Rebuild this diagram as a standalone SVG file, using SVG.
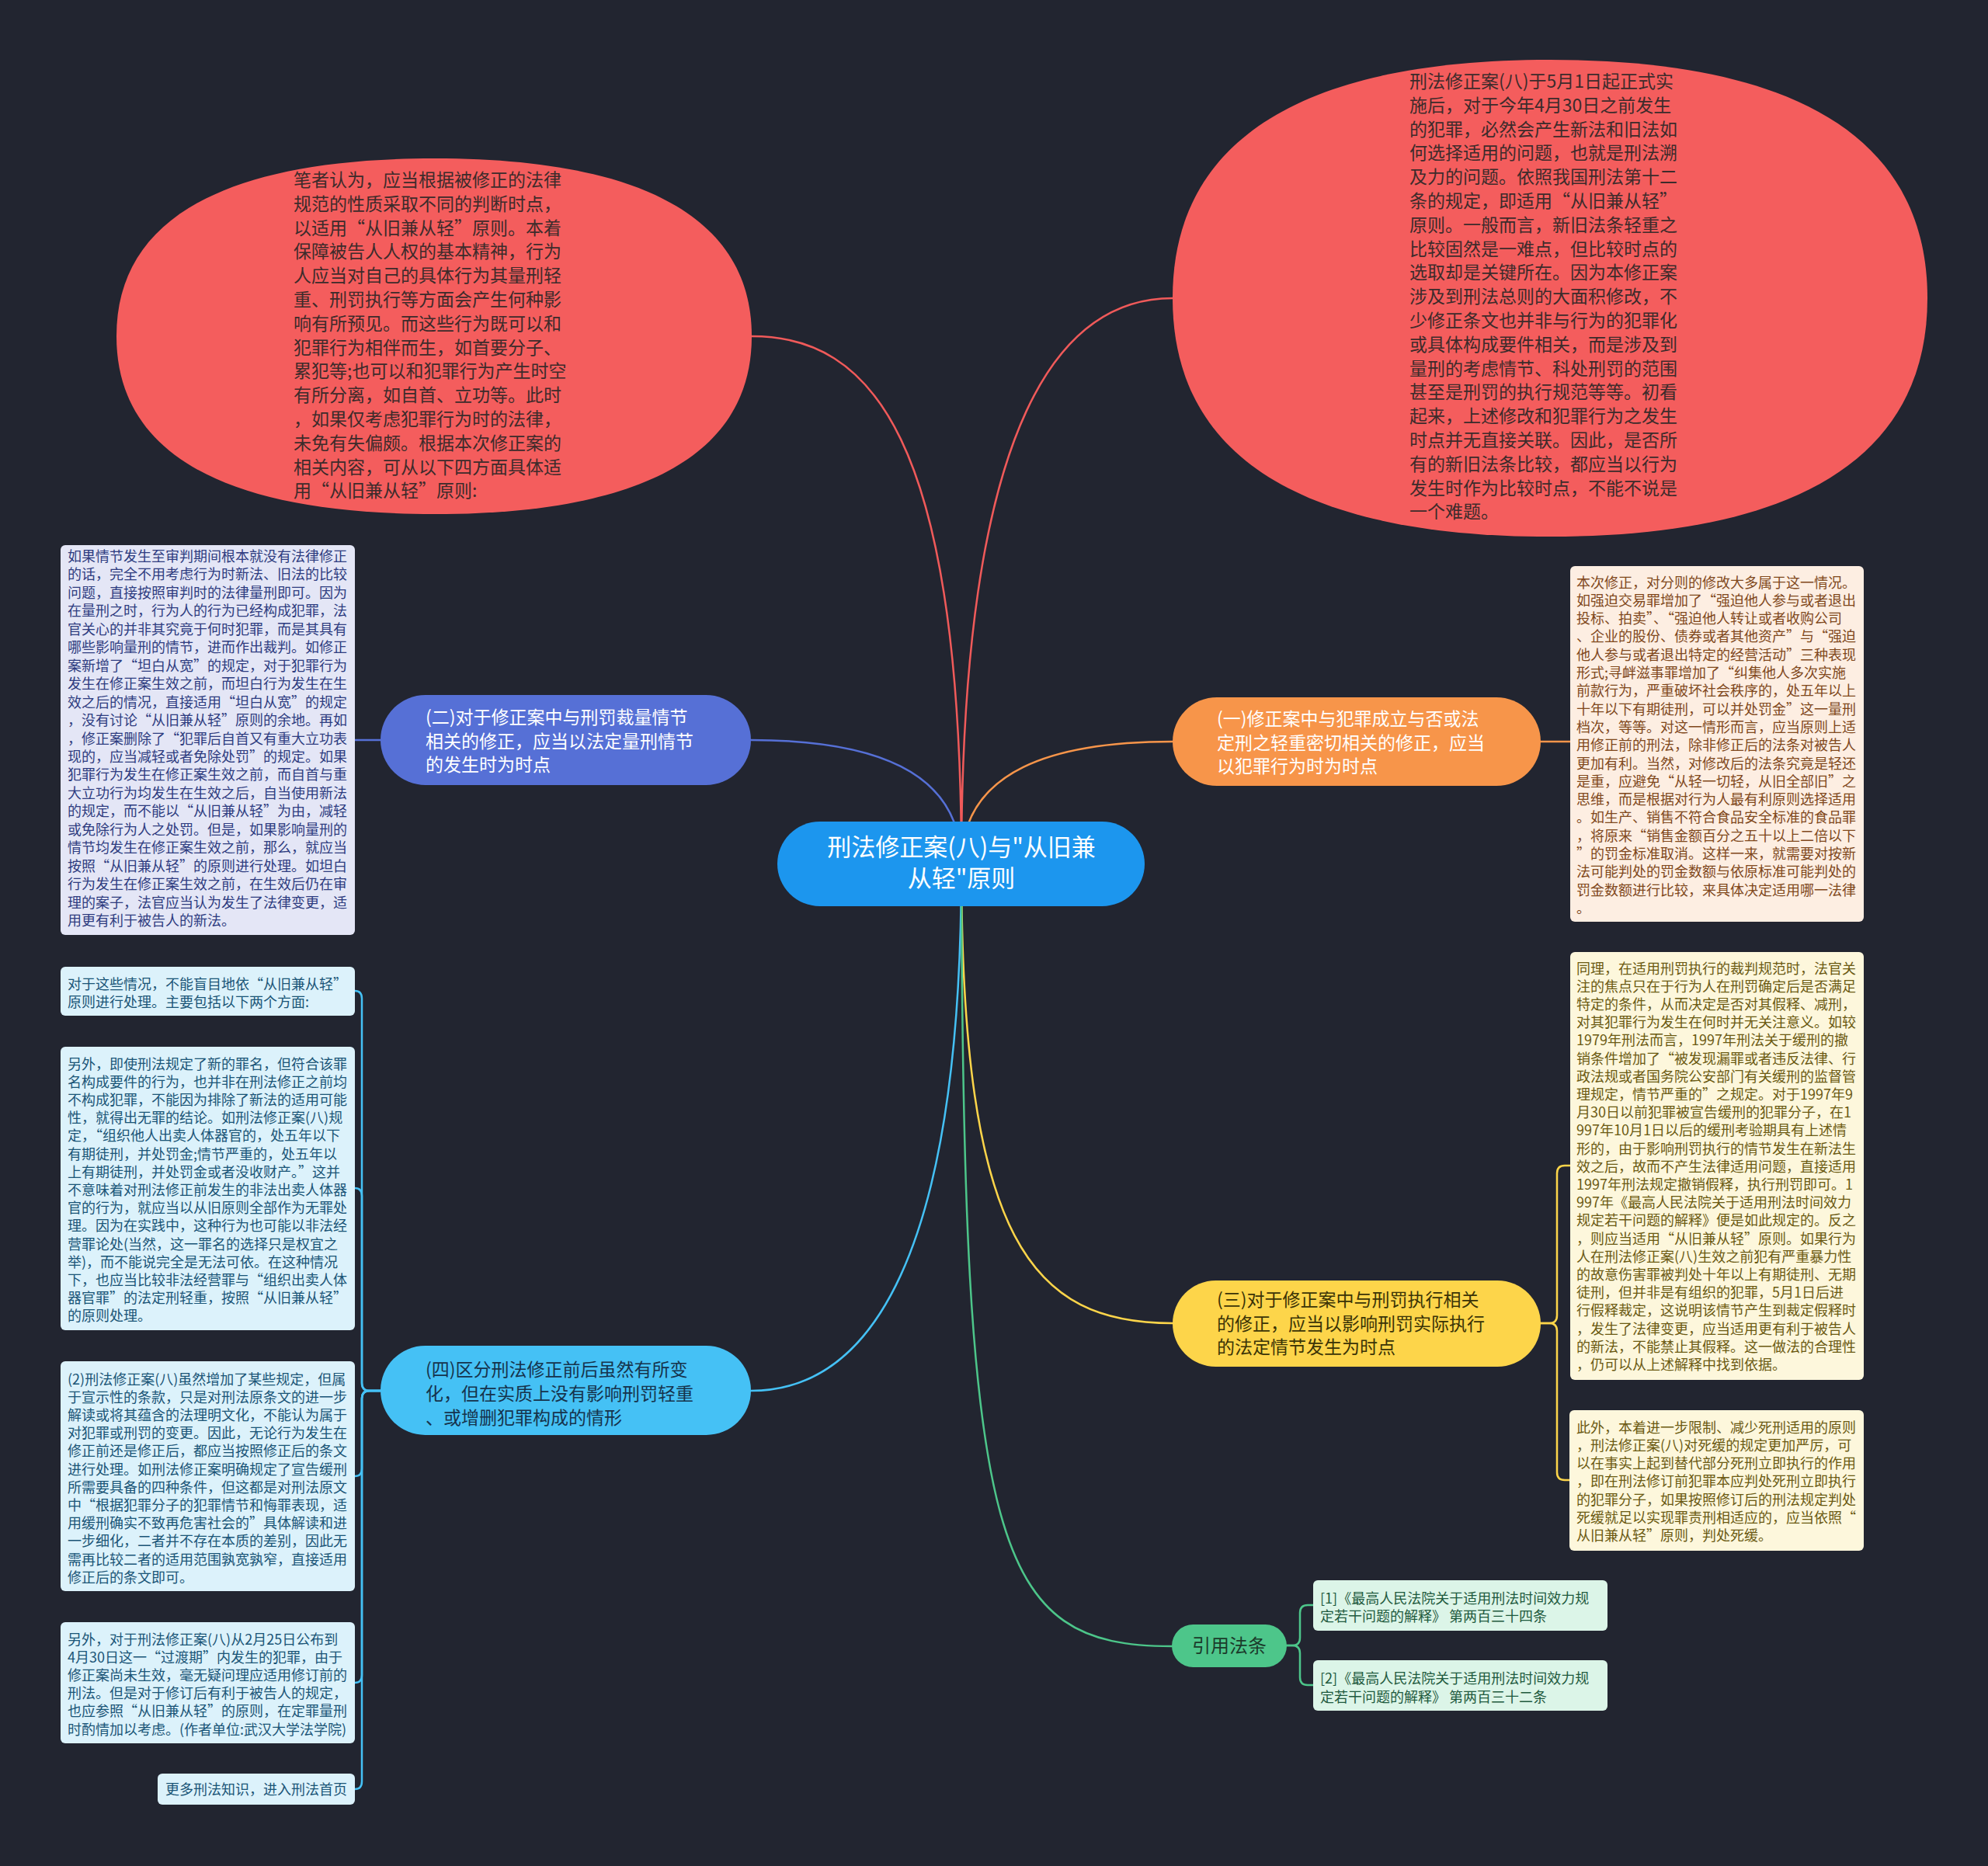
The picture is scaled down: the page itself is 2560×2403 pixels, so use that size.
<svg xmlns="http://www.w3.org/2000/svg" width="2560" height="2403" viewBox="0 0 2560 2403">
<style>
text{font-family:"Noto Sans CJK SC","Noto Sans",sans-serif;}
.ell{font-size:23px;fill:#3d2b2b;}
.nd{font-size:23px;}
.bx{font-size:18px;}
.cl{fill:none;stroke-width:2.5;stroke-linecap:round;}
</style>
<rect x="0" y="0" width="2560" height="2403" fill="#222530"/>
<g id="connectors">
<path class="cl" stroke="#f05a5a" d="M1238,1113 C1238,560 1120,433 968,433"/>
<path class="cl" stroke="#f05a5a" d="M1238,1113 C1238,530 1370,384 1510,384"/>
<path class="cl" stroke="#5670d6" d="M1238,1113 C1238,990 1120,953 967,953"/>
<path class="cl" stroke="#f7954a" d="M1238,1113 C1238,990 1360,955 1510,955"/>
<path class="cl" stroke="#fdd54a" d="M1238,1113 C1238,1600 1330,1704 1510,1704"/>
<path class="cl" stroke="#45c1f5" d="M1238,1113 C1238,1620 1120,1791 967,1791"/>
<path class="cl" stroke="#4dc68a" d="M1238,1113 C1240,2000 1280,2120 1509,2120"/>
<path class="cl" stroke="#5670d6" d="M490,953 H457"/>
<path class="cl" stroke="#f7954a" d="M1984,955 H2022"/>
<path class="cl" stroke="#fdd54a" d="M1984,1704 H1995 Q2005,1704 2005,1694 V1511 Q2005,1501 2015,1501 H2022"/>
<path class="cl" stroke="#fdd54a" d="M1984,1704 H1995 Q2005,1704 2005,1714 V1896 Q2005,1906 2015,1906 H2021"/>
<path class="cl" stroke="#45c1f5" d="M490,1791 H476 Q466,1791 466,1781 V1286 Q466,1276 457,1276"/>
<path class="cl" stroke="#45c1f5" d="M490,1791 H476 Q466,1791 466,1781 V1540 Q466,1530 457,1530"/>
<path class="cl" stroke="#45c1f5" d="M490,1791 H476 Q466,1791 466,1801 V1891 Q466,1901 457,1901"/>
<path class="cl" stroke="#45c1f5" d="M490,1791 H476 Q466,1791 466,1801 V2157 Q466,2167 457,2167"/>
<path class="cl" stroke="#45c1f5" d="M490,1791 H476 Q466,1791 466,1801 V2294 Q466,2304 457,2304"/>
<path class="cl" stroke="#4dc68a" d="M1657,2119 H1664 Q1674,2119 1674,2109 V2077 Q1674,2067 1684,2067 H1691"/>
<path class="cl" stroke="#4dc68a" d="M1657,2119 H1664 Q1674,2119 1674,2129 V2160 Q1674,2170 1684,2170 H1691"/>
</g>
<g id="center">
<rect x="1001" y="1058" width="473" height="109" rx="54.5" fill="#1c96ee"/>
<text x="1238" y="1102" font-size="31" fill="#ffffff" text-anchor="middle">刑法修正案(八)与"从旧兼</text>
<text x="1238" y="1142" font-size="31" fill="#ffffff" text-anchor="middle">从轻"原则</text>
</g>
<g id="note-left-top">
<path fill="#f45d5d" d="M150,433 C150,282 289,204 559,204 C829,204 968,282 968,433 C968,584 829,662 559,662 C289,662 150,584 150,433 Z"/>
<text class="ell" x="378" y="240"><tspan x="378">笔者认为，应当根据被修正的法律</tspan><tspan x="378" dy="30.8">规范的性质采取不同的判断时点，</tspan><tspan x="378" dy="30.8">以适用“从旧兼从轻”原则。本着</tspan><tspan x="378" dy="30.8">保障被告人人权的基本精神，行为</tspan><tspan x="378" dy="30.8">人应当对自己的具体行为其量刑轻</tspan><tspan x="378" dy="30.8">重、刑罚执行等方面会产生何种影</tspan><tspan x="378" dy="30.8">响有所预见。而这些行为既可以和</tspan><tspan x="378" dy="30.8">犯罪行为相伴而生，如首要分子、</tspan><tspan x="378" dy="30.8">累犯等;也可以和犯罪行为产生时空</tspan><tspan x="378" dy="30.8">有所分离，如自首、立功等。此时</tspan><tspan x="378" dy="30.8">，如果仅考虑犯罪行为时的法律，</tspan><tspan x="378" dy="30.8">未免有失偏颇。根据本次修正案的</tspan><tspan x="378" dy="30.8">相关内容，可从以下四方面具体适</tspan><tspan x="378" dy="30.8">用“从旧兼从轻”原则:</tspan></text>
</g>
<g id="note-right-top">
<path fill="#f45d5d" d="M1510,384 C1510,181 1675,77 1996,77 C2317,77 2482,181 2482,384 C2482,587 2317,691 1996,691 C1675,691 1510,587 1510,384 Z"/>
<text class="ell" x="1815" y="113"><tspan x="1815">刑法修正案(八)于5月1日起正式实</tspan><tspan x="1815" dy="30.8">施后，对于今年4月30日之前发生</tspan><tspan x="1815" dy="30.8">的犯罪，必然会产生新法和旧法如</tspan><tspan x="1815" dy="30.8">何选择适用的问题，也就是刑法溯</tspan><tspan x="1815" dy="30.8">及力的问题。依照我国刑法第十二</tspan><tspan x="1815" dy="30.8">条的规定，即适用“从旧兼从轻”</tspan><tspan x="1815" dy="30.8">原则。一般而言，新旧法条轻重之</tspan><tspan x="1815" dy="30.8">比较固然是一难点，但比较时点的</tspan><tspan x="1815" dy="30.8">选取却是关键所在。因为本修正案</tspan><tspan x="1815" dy="30.8">涉及到刑法总则的大面积修改，不</tspan><tspan x="1815" dy="30.8">少修正条文也并非与行为的犯罪化</tspan><tspan x="1815" dy="30.8">或具体构成要件相关，而是涉及到</tspan><tspan x="1815" dy="30.8">量刑的考虑情节、科处刑罚的范围</tspan><tspan x="1815" dy="30.8">甚至是刑罚的执行规范等等。初看</tspan><tspan x="1815" dy="30.8">起来，上述修改和犯罪行为之发生</tspan><tspan x="1815" dy="30.8">时点并无直接关联。因此，是否所</tspan><tspan x="1815" dy="30.8">有的新旧法条比较，都应当以行为</tspan><tspan x="1815" dy="30.8">发生时作为比较时点，不能不说是</tspan><tspan x="1815" dy="30.8">一个难题。</tspan></text>
</g>
<g id="branch-2">
<rect x="490" y="895" width="477" height="116" rx="58" fill="#5670d6"/>
<text class="nd" fill="#ffffff" x="548" y="932"><tspan x="548">(二)对于修正案中与刑罚裁量情节</tspan><tspan x="548" dy="30.5">相关的修正，应当以法定量刑情节</tspan><tspan x="548" dy="30.5">的发生时为时点</tspan></text>
</g>
<g id="branch-1">
<rect x="1510" y="898" width="474" height="114" rx="57" fill="#f7954a"/>
<text class="nd" fill="#ffffff" x="1567" y="934"><tspan x="1567">(一)修正案中与犯罪成立与否或法</tspan><tspan x="1567" dy="30.5">定刑之轻重密切相关的修正，应当</tspan><tspan x="1567" dy="30.5">以犯罪行为时为时点</tspan></text>
</g>
<g id="branch-3">
<rect x="1510" y="1649" width="474" height="111" rx="55.5" fill="#fdd54a"/>
<text class="nd" fill="#3a3306" x="1567" y="1682"><tspan x="1567">(三)对于修正案中与刑罚执行相关</tspan><tspan x="1567" dy="30.5">的修正，应当以影响刑罚实际执行</tspan><tspan x="1567" dy="30.5">的法定情节发生为时点</tspan></text>
</g>
<g id="branch-4">
<rect x="490" y="1733" width="477" height="115" rx="57.5" fill="#45c1f5"/>
<text class="nd" fill="#16334c" x="548" y="1772"><tspan x="548">(四)区分刑法修正前后虽然有所变</tspan><tspan x="548" dy="31">化，但在实质上没有影响刑罚轻重</tspan><tspan x="548" dy="31">、或增删犯罪构成的情形</tspan></text>
</g>
<g id="branch-refs">
<rect x="1509" y="2092" width="148" height="55" rx="27.5" fill="#4dc68a"/>
<text x="1583" y="2128" font-size="24" fill="#1b3b2b" text-anchor="middle">引用法条</text>
</g>
<g id="leaf-l1">
<rect x="78" y="702" width="379" height="502" rx="6" fill="#e4e6f6"/>
<text class="bx" fill="#2e3c80" x="87" y="723"><tspan x="87">如果情节发生至审判期间根本就没有法律修正</tspan><tspan x="87" dy="23.45">的话，完全不用考虑行为时新法、旧法的比较</tspan><tspan x="87" dy="23.45">问题，直接按照审判时的法律量刑即可。因为</tspan><tspan x="87" dy="23.45">在量刑之时，行为人的行为已经构成犯罪，法</tspan><tspan x="87" dy="23.45">官关心的并非其究竟于何时犯罪，而是其具有</tspan><tspan x="87" dy="23.45">哪些影响量刑的情节，进而作出裁判。如修正</tspan><tspan x="87" dy="23.45">案新增了“坦白从宽”的规定，对于犯罪行为</tspan><tspan x="87" dy="23.45">发生在修正案生效之前，而坦白行为发生在生</tspan><tspan x="87" dy="23.45">效之后的情况，直接适用“坦白从宽”的规定</tspan><tspan x="87" dy="23.45">，没有讨论“从旧兼从轻”原则的余地。再如</tspan><tspan x="87" dy="23.45">，修正案删除了“犯罪后自首又有重大立功表</tspan><tspan x="87" dy="23.45">现的，应当减轻或者免除处罚”的规定。如果</tspan><tspan x="87" dy="23.45">犯罪行为发生在修正案生效之前，而自首与重</tspan><tspan x="87" dy="23.45">大立功行为均发生在生效之后，自当使用新法</tspan><tspan x="87" dy="23.45">的规定，而不能以“从旧兼从轻”为由，减轻</tspan><tspan x="87" dy="23.45">或免除行为人之处罚。但是，如果影响量刑的</tspan><tspan x="87" dy="23.45">情节均发生在修正案生效之前，那么，就应当</tspan><tspan x="87" dy="23.45">按照“从旧兼从轻”的原则进行处理。如坦白</tspan><tspan x="87" dy="23.45">行为发生在修正案生效之前，在生效后仍在审</tspan><tspan x="87" dy="23.45">理的案子，法官应当认为发生了法律变更，适</tspan><tspan x="87" dy="23.45">用更有利于被告人的新法。</tspan></text>
</g>
<g id="leaf-l2">
<rect x="78" y="1245" width="379" height="63" rx="6" fill="#dcf2fb"/>
<text class="bx" fill="#1a5577" x="87" y="1273.5"><tspan x="87">对于这些情况，不能盲目地依“从旧兼从轻”</tspan><tspan x="87" dy="23.3">原则进行处理。主要包括以下两个方面:</tspan></text>
</g>
<g id="leaf-l3">
<rect x="78" y="1348" width="379" height="365" rx="6" fill="#dcf2fb"/>
<text class="bx" fill="#1a5577" x="87" y="1376.5"><tspan x="87">另外，即使刑法规定了新的罪名，但符合该罪</tspan><tspan x="87" dy="23.2">名构成要件的行为，也并非在刑法修正之前均</tspan><tspan x="87" dy="23.2">不构成犯罪，不能因为排除了新法的适用可能</tspan><tspan x="87" dy="23.2">性，就得出无罪的结论。如刑法修正案(八)规</tspan><tspan x="87" dy="23.2">定，“组织他人出卖人体器官的，处五年以下</tspan><tspan x="87" dy="23.2">有期徒刑，并处罚金;情节严重的，处五年以</tspan><tspan x="87" dy="23.2">上有期徒刑，并处罚金或者没收财产。”这并</tspan><tspan x="87" dy="23.2">不意味着对刑法修正前发生的非法出卖人体器</tspan><tspan x="87" dy="23.2">官的行为，就应当以从旧原则全部作为无罪处</tspan><tspan x="87" dy="23.2">理。因为在实践中，这种行为也可能以非法经</tspan><tspan x="87" dy="23.2">营罪论处(当然，这一罪名的选择只是权宜之</tspan><tspan x="87" dy="23.2">举)，而不能说完全是无法可依。在这种情况</tspan><tspan x="87" dy="23.2">下，也应当比较非法经营罪与“组织出卖人体</tspan><tspan x="87" dy="23.2">器官罪”的法定刑轻重，按照“从旧兼从轻”</tspan><tspan x="87" dy="23.2">的原则处理。</tspan></text>
</g>
<g id="leaf-l4">
<rect x="78" y="1753" width="379" height="296" rx="6" fill="#dcf2fb"/>
<text class="bx" fill="#1a5577" x="87" y="1782.5"><tspan x="87">(2)刑法修正案(八)虽然增加了某些规定，但属</tspan><tspan x="87" dy="23.2">于宣示性的条款，只是对刑法原条文的进一步</tspan><tspan x="87" dy="23.2">解读或将其蕴含的法理明文化，不能认为属于</tspan><tspan x="87" dy="23.2">对犯罪或刑罚的变更。因此，无论行为发生在</tspan><tspan x="87" dy="23.2">修正前还是修正后，都应当按照修正后的条文</tspan><tspan x="87" dy="23.2">进行处理。如刑法修正案明确规定了宣告缓刑</tspan><tspan x="87" dy="23.2">所需要具备的四种条件，但这都是对刑法原文</tspan><tspan x="87" dy="23.2">中“根据犯罪分子的犯罪情节和悔罪表现，适</tspan><tspan x="87" dy="23.2">用缓刑确实不致再危害社会的”具体解读和进</tspan><tspan x="87" dy="23.2">一步细化，二者并不存在本质的差别，因此无</tspan><tspan x="87" dy="23.2">需再比较二者的适用范围孰宽孰窄，直接适用</tspan><tspan x="87" dy="23.2">修正后的条文即可。</tspan></text>
</g>
<g id="leaf-l5">
<rect x="78" y="2089" width="379" height="156" rx="6" fill="#dcf2fb"/>
<text class="bx" fill="#1a5577" x="87" y="2117.5"><tspan x="87">另外，对于刑法修正案(八)从2月25日公布到</tspan><tspan x="87" dy="23.2">4月30日这一“过渡期”内发生的犯罪，由于</tspan><tspan x="87" dy="23.2">修正案尚未生效，毫无疑问理应适用修订前的</tspan><tspan x="87" dy="23.2">刑法。但是对于修订后有利于被告人的规定，</tspan><tspan x="87" dy="23.2">也应参照“从旧兼从轻”的原则，在定罪量刑</tspan><tspan x="87" dy="23.2">时酌情加以考虑。(作者单位:武汉大学法学院)</tspan></text>
</g>
<g id="leaf-l6">
<rect x="203" y="2284" width="254" height="40" rx="6" fill="#dcf2fb"/>
<text class="bx" fill="#1a5577" x="213" y="2311">更多刑法知识，进入刑法首页</text>
</g>
<g id="leaf-r1">
<rect x="2022" y="729" width="378" height="458" rx="6" fill="#fdeee2"/>
<text class="bx" fill="#80481c" x="2030" y="756.5"><tspan x="2030">本次修正，对分则的修改大多属于这一情况。</tspan><tspan x="2030" dy="23.3">如强迫交易罪增加了“强迫他人参与或者退出</tspan><tspan x="2030" dy="23.3">投标、拍卖”、“强迫他人转让或者收购公司</tspan><tspan x="2030" dy="23.3">、企业的股份、债券或者其他资产”与“强迫</tspan><tspan x="2030" dy="23.3">他人参与或者退出特定的经营活动”三种表现</tspan><tspan x="2030" dy="23.3">形式;寻衅滋事罪增加了“纠集他人多次实施</tspan><tspan x="2030" dy="23.3">前款行为，严重破坏社会秩序的，处五年以上</tspan><tspan x="2030" dy="23.3">十年以下有期徒刑，可以并处罚金”这一量刑</tspan><tspan x="2030" dy="23.3">档次，等等。对这一情形而言，应当原则上适</tspan><tspan x="2030" dy="23.3">用修正前的刑法，除非修正后的法条对被告人</tspan><tspan x="2030" dy="23.3">更加有利。当然，对修改后的法条究竟是轻还</tspan><tspan x="2030" dy="23.3">是重，应避免“从轻一切轻，从旧全部旧”之</tspan><tspan x="2030" dy="23.3">思维，而是根据对行为人最有利原则选择适用</tspan><tspan x="2030" dy="23.3">。如生产、销售不符合食品安全标准的食品罪</tspan><tspan x="2030" dy="23.3">，将原来“销售金额百分之五十以上二倍以下</tspan><tspan x="2030" dy="23.3">”的罚金标准取消。这样一来，就需要对按新</tspan><tspan x="2030" dy="23.3">法可能判处的罚金数额与依原标准可能判处的</tspan><tspan x="2030" dy="23.3">罚金数额进行比较，来具体决定适用哪一法律</tspan><tspan x="2030" dy="23.3">。</tspan></text>
</g>
<g id="leaf-r2">
<rect x="2022" y="1226" width="378" height="551" rx="6" fill="#fdf7dc"/>
<text class="bx" fill="#6b5a12" x="2030" y="1253.5"><tspan x="2030">同理，在适用刑罚执行的裁判规范时，法官关</tspan><tspan x="2030" dy="23.2">注的焦点只在于行为人在刑罚确定后是否满足</tspan><tspan x="2030" dy="23.2">特定的条件，从而决定是否对其假释、减刑，</tspan><tspan x="2030" dy="23.2">对其犯罪行为发生在何时并无关注意义。如较</tspan><tspan x="2030" dy="23.2">1979年刑法而言，1997年刑法关于缓刑的撤</tspan><tspan x="2030" dy="23.2">销条件增加了“被发现漏罪或者违反法律、行</tspan><tspan x="2030" dy="23.2">政法规或者国务院公安部门有关缓刑的监督管</tspan><tspan x="2030" dy="23.2">理规定，情节严重的”之规定。对于1997年9</tspan><tspan x="2030" dy="23.2">月30日以前犯罪被宣告缓刑的犯罪分子，在1</tspan><tspan x="2030" dy="23.2">997年10月1日以后的缓刑考验期具有上述情</tspan><tspan x="2030" dy="23.2">形的，由于影响刑罚执行的情节发生在新法生</tspan><tspan x="2030" dy="23.2">效之后，故而不产生法律适用问题，直接适用</tspan><tspan x="2030" dy="23.2">1997年刑法规定撤销假释，执行刑罚即可。1</tspan><tspan x="2030" dy="23.2">997年《最高人民法院关于适用刑法时间效力</tspan><tspan x="2030" dy="23.2">规定若干问题的解释》便是如此规定的。反之</tspan><tspan x="2030" dy="23.2">，则应当适用“从旧兼从轻”原则。如果行为</tspan><tspan x="2030" dy="23.2">人在刑法修正案(八)生效之前犯有严重暴力性</tspan><tspan x="2030" dy="23.2">的故意伤害罪被判处十年以上有期徒刑、无期</tspan><tspan x="2030" dy="23.2">徒刑，但并非是有组织的犯罪，5月1日后进</tspan><tspan x="2030" dy="23.2">行假释裁定，这说明该情节产生到裁定假释时</tspan><tspan x="2030" dy="23.2">，发生了法律变更，应当适用更有利于被告人</tspan><tspan x="2030" dy="23.2">的新法，不能禁止其假释。这一做法的合理性</tspan><tspan x="2030" dy="23.2">，仍可以从上述解释中找到依据。</tspan></text>
</g>
<g id="leaf-r3">
<rect x="2021" y="1816" width="379" height="181" rx="6" fill="#fdf7dc"/>
<text class="bx" fill="#6b5a12" x="2030" y="1844.5"><tspan x="2030">此外，本着进一步限制、减少死刑适用的原则</tspan><tspan x="2030" dy="23.3">，刑法修正案(八)对死缓的规定更加严厉，可</tspan><tspan x="2030" dy="23.3">以在事实上起到替代部分死刑立即执行的作用</tspan><tspan x="2030" dy="23.3">，即在刑法修订前犯罪本应判处死刑立即执行</tspan><tspan x="2030" dy="23.3">的犯罪分子，如果按照修订后的刑法规定判处</tspan><tspan x="2030" dy="23.3">死缓就足以实现罪责刑相适应的，应当依照“</tspan><tspan x="2030" dy="23.3">从旧兼从轻”原则，判处死缓。</tspan></text>
</g>
<g id="ref-1">
<rect x="1691" y="2035" width="379" height="65" rx="6" fill="#dcf5e8"/>
<text class="bx" fill="#1f5a3e" x="1700" y="2064.5"><tspan x="1700">[1]《最高人民法院关于适用刑法时间效力规</tspan><tspan x="1700" dy="23.5">定若干问题的解释》 第两百三十四条</tspan></text>
</g>
<g id="ref-2">
<rect x="1691" y="2138" width="379" height="65" rx="6" fill="#dcf5e8"/>
<text class="bx" fill="#1f5a3e" x="1700" y="2168"><tspan x="1700">[2]《最高人民法院关于适用刑法时间效力规</tspan><tspan x="1700" dy="23.5">定若干问题的解释》 第两百三十二条</tspan></text>
</g>
</svg>
